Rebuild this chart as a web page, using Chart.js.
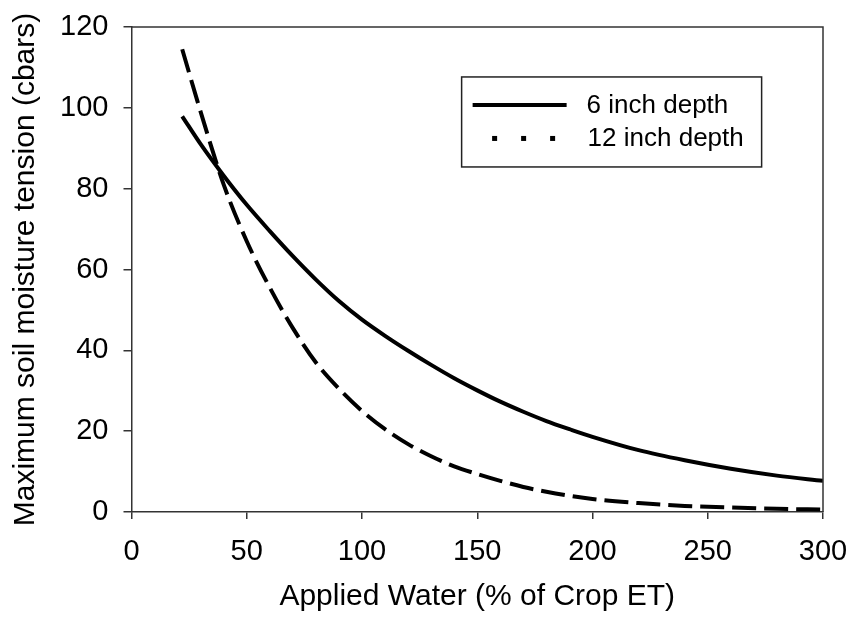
<!DOCTYPE html>
<html>
<head>
<meta charset="utf-8">
<script src="https://cdn.jsdelivr.net/npm/chart.js@4.4.1/dist/chart.umd.min.js"></script>
<style>
  html, body { margin: 0; padding: 0; background: #fff; }
  #wrap { width: 851px; height: 621px; }
</style>
</head>
<body>
<div id="wrap"><canvas id="myChart" width="851" height="621"></canvas></div>
<script>
// values
var appliedWater = [22, 30, 40, 50, 60, 70, 80, 90, 100, 110, 120, 130, 140, 150, 160, 170, 180, 190, 200, 220, 240, 260, 280, 300];
var depth6 = [97.9, 91, 83.2, 76, 69.5, 63.3, 57.5, 52.2, 47.6, 43.6, 39.9, 36.4, 33.1, 30.1, 27.3, 24.8, 22.5, 20.5, 18.6, 15.3, 12.8, 10.7, 9, 7.7];
var depth12 = [114.5, 99, 81, 67, 55.5, 45.5, 37, 30.5, 25, 20.5, 16.8, 13.8, 11.3, 9.4, 7.7, 6.2, 5, 4, 3.2, 2.2, 1.5, 1.1, 0.8, 0.6];
var seriesNames = ['6 inch depth', '12 inch depth'];
var xTicks = [0, 50, 100, 150, 200, 250, 300];
var yTicks = [0, 20, 40, 60, 80, 100, 120];

var fontFamily = 'Arial, "Liberation Sans", sans-serif';
var axisColor = '#333';

function toPoints(xs, ys) {
    return xs.map(function(x, i) { return { x: x, y: ys[i] }; });
}

// box round the plot and the legend inside it
var framePlugin = {
    id: 'frame',
    afterDraw: function(chart) {
        var ctx = chart.ctx;
        var a = chart.chartArea;
        ctx.save();
        ctx.strokeStyle = axisColor;
        ctx.lineWidth = 1.5;
        ctx.beginPath();
        ctx.moveTo(a.left, a.top);
        ctx.lineTo(a.right, a.top);
        ctx.lineTo(a.right, a.bottom);
        ctx.stroke();

        // legend
        var w = a.right - a.left, h = a.bottom - a.top;
        var bx = a.left + w * 0.4774, by = a.top + h * 0.103;
        var bw = 300, bh = 90;
        ctx.lineWidth = 1.5;
        ctx.strokeStyle = '#222';
        ctx.strokeRect(bx, by, bw, bh);

        ctx.strokeStyle = '#000';
        ctx.lineWidth = 4;
        ctx.beginPath();
        ctx.moveTo(bx + 11, by + 28);
        ctx.lineTo(bx + 105, by + 28);
        ctx.stroke();

        ctx.fillStyle = '#000';
        [33, 62, 91].forEach(function(dx) {
            ctx.fillRect(bx + dx - 2.5, by + 61.5 - 2.5, 5, 5);
        });

        ctx.font = '26px ' + fontFamily;
        ctx.textBaseline = 'middle';
        ctx.textAlign = 'left';
        ctx.fillText(seriesNames[0], bx + 125, by + 29);
        ctx.fillText(seriesNames[1], bx + 126, by + 62);
        ctx.restore();
    }
};

var config = {
    type: 'line',
    data: {
        datasets: [{
            label: seriesNames[0],
            data: toPoints(appliedWater, depth6),
            borderColor: '#000',
            borderWidth: 4,
            pointRadius: 0,
            cubicInterpolationMode: 'monotone',
            fill: false
        }, {
            label: seriesNames[1],
            data: toPoints(appliedWater, depth12),
            borderColor: '#000',
            borderWidth: 4,
            borderDash: [24, 8],
            pointRadius: 0,
            cubicInterpolationMode: 'monotone',
            fill: false
        }]
    },
    options: {
        responsive: false,
        animation: false,
        layout: { padding: { left: 0, right: 28, top: 27, bottom: 0 } },
        plugins: {
            legend: { display: false },
            tooltip: { enabled: false }
        },
        scales: {
            x: {
                type: 'linear',
                min: 0,
                max: 300,
                afterBuildTicks: function(scale) {
                    scale.ticks = xTicks.map(function(v) { return { value: v }; });
                },
                border: { display: true, color: axisColor, width: 1.5 },
                grid: { display: true, drawOnChartArea: false, drawTicks: true, tickLength: 7, color: axisColor, lineWidth: 1.5 },
                ticks: { color: '#000', font: { family: fontFamily, size: 29 }, padding: 16, maxRotation: 0 },
                title: { display: true, text: 'Applied Water (% of Crop ET)', color: '#000', font: { family: fontFamily, size: 30 }, padding: { top: 6, bottom: 6 } },
                afterFit: function(scale) {
                    scale.height = 109;
                    scale.paddingLeft = 0;
                    scale.paddingRight = 0;
                }
            },
            y: {
                min: 0,
                max: 120,
                afterBuildTicks: function(scale) {
                    scale.ticks = yTicks.map(function(v) { return { value: v }; });
                },
                border: { display: true, color: axisColor, width: 1.5 },
                grid: { display: true, drawOnChartArea: false, drawTicks: true, tickLength: 8, color: axisColor, lineWidth: 1.5 },
                ticks: { color: '#000', font: { family: fontFamily, size: 29 }, padding: 15 },
                title: { display: true, text: 'Maximum soil moisture tension (cbars)', color: '#000', font: { family: fontFamily, size: 30 }, padding: { top: 8, bottom: 8 } },
                afterFit: function(scale) {
                    scale.width = 131.5;
                    scale.paddingTop = 0;
                    scale.paddingBottom = 0;
                }
            }
        }
    },
    plugins: [framePlugin]
};

var ctx = document.getElementById('myChart').getContext('2d');
var soilChart = new Chart(ctx, config);
</script>
</body>
</html>
